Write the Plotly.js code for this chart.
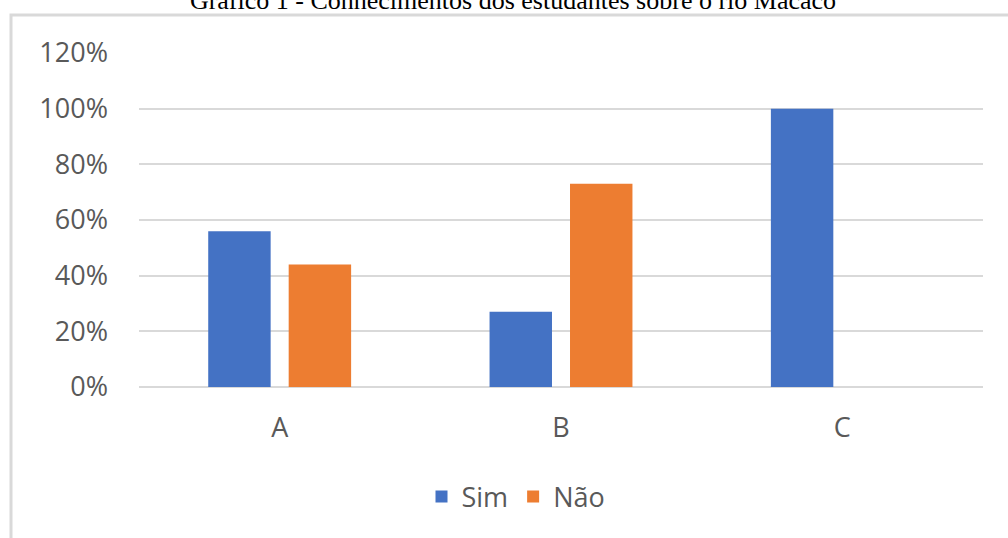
<!DOCTYPE html>
<html>
<head>
<meta charset="utf-8">
<script src="https://cdn.plot.ly/plotly-3.0.1.min.js"></script>
<style>
  html, body { margin: 0; padding: 0; background: #ffffff; overflow: hidden; }
  #chart { width: 1008px; height: 538px; }
</style>
</head>
<body>
<div id="chart"></div>
<script>
// Categories and answer shares (%)
const categories = ['A', 'B', 'C'];
const simValues = [56, 27, 100];
const naoValues = [44, 73, 0];
const seriesNames = ['Sim', 'Não'];
const yTicks = [0, 20, 40, 60, 80, 100, 120];
const yTickLabels = ['0%', '20%', '40%', '60%', '80%', '100%', '120%'];

const axisFont = { family: 'Open Sans, Noto Sans, sans-serif', size: 27, color: '#595959' };

const traces = [
  {
    type: 'bar', name: seriesNames[0], x: categories, y: simValues,
    marker: { color: '#4472C4' },
    hoverinfo: 'x+y'
  },
  {
    type: 'bar', name: seriesNames[1], x: categories, y: naoValues,
    marker: { color: '#ED7D31' },
    hoverinfo: 'x+y'
  }
];

// Plot area: x 139..983, y 53..387 (pixels)
const L = 139, R = 983, T = 53, B = 387;
const W = R - L, H = B - T;
const px = v => (v - L) / W;
const py = v => (B - v) / H;

const layout = {
  width: 1008,
  height: 538,
  margin: { l: L, r: 1008 - R, t: T, b: 538 - B, pad: 0 },
  paper_bgcolor: '#ffffff',
  plot_bgcolor: '#ffffff',
  barmode: 'group',
  bargap: 0.428,
  bargroupgap: 0.224,
  title: {
    text: 'Gráfico 1 - Conhecimentos dos estudantes sobre o rio Macaco',
    font: { family: 'Liberation Serif, Times New Roman, serif', size: 26, color: '#000000' },
    xref: 'container', x: 513 / 1008, xanchor: 'center',
    yref: 'container', y: 1.0, yanchor: 'middle'
  },
  xaxis: {
    type: 'category',
    showgrid: false,
    showline: false,
    ticks: '',
    tickfont: axisFont,
    ticklabelstandoff: 22,
    fixedrange: true
  },
  yaxis: {
    range: [0, 120],
    tickmode: 'array',
    tickvals: yTicks,
    ticktext: yTickLabels,
    showgrid: true,
    gridcolor: '#d9d9d9',
    gridwidth: 2,
    zeroline: true,
    zerolinecolor: '#d9d9d9',
    zerolinewidth: 2,
    showline: false,
    ticks: '',
    tickfont: axisFont,
    ticklabelstandoff: 30,
    fixedrange: true
  },
  showlegend: true,
  legend: {
    orientation: 'h',
    x: px(516), xanchor: 'center',
    y: py(497), yanchor: 'middle',
    font: axisFont,
    bgcolor: 'rgba(0,0,0,0)'
  },
  shapes: [
    // outer chart frame
    {
      type: 'rect', xref: 'paper', yref: 'paper',
      x0: px(11), x1: px(1015), y0: py(548), y1: py(15),
      line: { color: '#d9d9d9', width: 3 },
      fillcolor: 'rgba(0,0,0,0)',
      layer: 'below'
    }
  ]
};

Plotly.newPlot('chart', traces, layout, { displayModeBar: false, staticPlot: true });
</script>
</body>
</html>
